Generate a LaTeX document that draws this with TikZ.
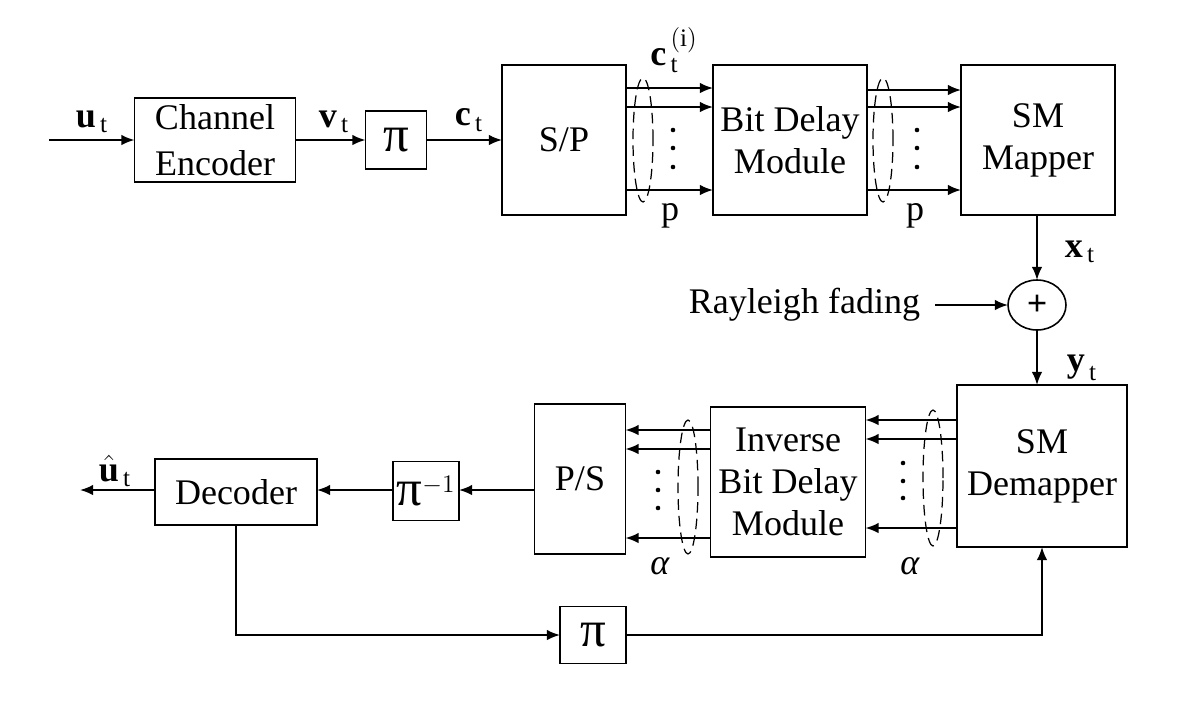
\documentclass[tikz,border=0pt]{standalone}
\usepackage{amsmath}
\usepackage{fontspec}
\setmainfont{Liberation Serif}
\usetikzlibrary{arrows.meta,shapes.geometric}
\newcommand{\bigpi}{{\fontsize{29}{29}\selectfont π}}
\begin{document}
\begin{tikzpicture}[x=0.02cm,y=-0.02cm,inner sep=0pt,outer sep=0pt,line width=1pt,
font=\fontsize{20.5}{24}\selectfont,>={Latex[length=7.5pt,width=6pt]},
sysblock/.style={draw,rectangle,align=center,line width=0.9pt},
bundle/.style={draw,dash pattern=on 6pt off 3.5pt,line width=0.7pt}]
\useasboundingbox (0,0) rectangle (1190,718);
% transmitter
\draw (215,140) node[sysblock,minimum width=3.22cm,minimum height=1.68cm,font=\fontsize{20.5}{26}\selectfont] (enc) {Channel\\Encoder};
\draw (396,140) node[sysblock,minimum width=1.22cm,minimum height=1.16cm] (pi1) {\bigpi};
\draw (564,140) node[sysblock,minimum width=2.48cm,minimum height=3cm] (sp) {S/P};
\draw (790,140) node[sysblock,minimum width=3.08cm,minimum height=3cm] (bdm) {Bit Delay\\Module};
\draw (1038,140) node[sysblock,minimum width=3.08cm,minimum height=3cm] (map) {SM\\Mapper};
\coordinate (uin) at (49,140);
\draw[->] (uin) -- (enc.west);
\draw[->] (enc.east) -- (pi1.west);
\draw[->] (pi1.east) -- (sp.west);
\node at (92,122) {$\textbf{u}_{\,\text{t}}$};
\node at (334,122) {$\textbf{v}_{\,\text{t}}$};
\node at (469,120) {$\textbf{c}_{\,\text{t}}$};
\node at (674,50) {$\textbf{c}_{\,\text{t}}^{\,(\text{i})}$};
\foreach \y in {88,107,190} \draw[->] (sp.east |- 0,\y) -- (bdm.west |- 0,\y);
\foreach \y in {90,107,190} \draw[->] (bdm.east |- 0,\y) -- (map.west |- 0,\y);
\foreach \x in {673,917} {
  \foreach \y in {130,148,167} \fill (\x,\y) circle (1.3pt);
}
\draw[bundle] (643,140) ellipse [x radius=0.2cm,y radius=1.24cm];
\draw[bundle] (883,140) ellipse [x radius=0.2cm,y radius=1.24cm];
\node at (670,216) {p};
\node at (915,216) {p};
% channel
\draw (1037,305) node[draw,ellipse,minimum width=1.16cm,minimum height=1cm,line width=0.9pt] (sum) {\textbf{+}};
\node[anchor=east] (ray) at (920,305) {Rayleigh fading};
\draw[->] (sum.north |- map.south) -- (sum.north);
\draw[->] ([xshift=0.3cm]ray.east) -- (sum.west);
\node at (1080,252) {$\textbf{x}_{\,\text{t}}$};
\node at (1082,368) {$\textbf{y}_{\,\text{t}}$};
% receiver
\draw (1042,466) node[sysblock,minimum width=3.4cm,minimum height=3.24cm] (dem) {SM\\Demapper};
\draw (788,482) node[sysblock,minimum width=3.1cm,minimum height=3cm] (ibdm) {Inverse\\Bit Delay\\Module};
\draw (580,479) node[sysblock,minimum width=1.82cm,minimum height=3cm] (ps) {P/S};
\draw (426,491) node[sysblock,minimum width=1.32cm,minimum height=1.18cm] (pinv) {\bigpi$^{-1}$};
\draw (236,492) node[sysblock,minimum width=3.24cm,minimum height=1.32cm] (dec) {Decoder};
\draw (593,635) node[sysblock,minimum width=1.32cm,minimum height=1.14cm] (pi2) {\bigpi};
\draw[->] (sum.south) -- (sum.south |- dem.north);
\foreach \y in {420,439,528} \draw[->] (dem.west |- 0,\y) -- (ibdm.east |- 0,\y);
\foreach \y in {430,449,538} \draw[->] (ibdm.west |- 0,\y) -- (ps.east |- 0,\y);
\foreach \y in {472,490,508} \fill (658,\y) circle (1.3pt);
\foreach \y in {463,481,498} \fill (903,\y) circle (1.3pt);
\draw[bundle] (688,487) ellipse [x radius=0.2cm,y radius=1.34cm];
\draw[bundle] (933,478) ellipse [x radius=0.2cm,y radius=1.36cm];
\node at (660,566) {\textit{α}};
\node at (910,566) {\textit{α}};
\draw[->] (ps.west |- 0,490) -- (pinv.east |- 0,490);
\draw[->] (pinv.west |- 0,490) -- (dec.east |- 0,490);
\coordinate (uout) at (80,490);
\draw[->] (dec.west |- 0,490) -- (uout);
\node at (115,471) {$\hat{\textbf{u}}_{\,\text{t}}$};
% feedback
\draw[->] (dec.south) -- (dec.south |- pi2.west) -- (pi2.west);
\draw[->] (pi2.east) -| (dem.south);
\end{tikzpicture}
\end{document}
